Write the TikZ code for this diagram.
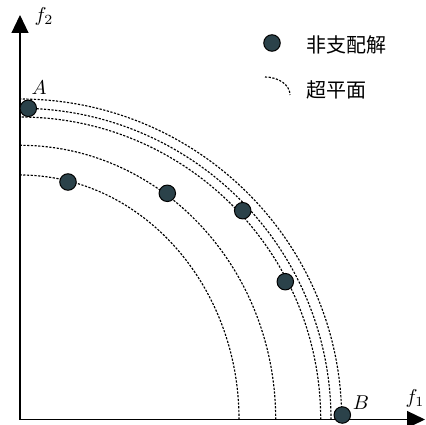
\documentclass[tikz,border=0pt]{standalone}
\usepackage{fontspec}
\newfontfamily\cjk{Noto Sans CJK SC}
\usetikzlibrary{arrows.meta}
\definecolor{dotfill}{RGB}{43,66,74}
\tikzset{
  axis/.style={line width=1.2pt,-{Triangle[length=18pt,width=17pt]}},
  hyper/.style={line width=1.15pt,dash pattern=on 2.2pt off 1.5pt},
  sol/.style={circle,draw=black,line width=1pt,fill=dotfill,minimum size=16.5pt,inner sep=0pt},
  lbl/.style={scale=2,font=\fontsize{10}{12}\selectfont},
  cjklbl/.style={anchor=west,inner sep=0pt,font=\fontsize{20}{24}\selectfont\cjk}
}
\begin{document}
\begin{tikzpicture}[x=1pt,y=1pt]
\useasboundingbox (0,0) rectangle (426,424);
\coordinate (O) at (20,4.5);
\coordinate (Ytip) at (20,409);
\coordinate (Xtip) at (425,4.5);
% hyperplanes
\draw[hyper] (O) ++(321.7,0) arc[start angle=0,end angle=90,x radius=321.7,y radius=320.5];
\draw[hyper] (O) ++(311,0) arc[start angle=0,end angle=90,x radius=311,y radius=311.2];
\draw[hyper] (O) ++(300.7,0) arc[start angle=0,end angle=90,x radius=300.7,y radius=302.5];
\draw[hyper] (O) ++(255.7,0) arc[start angle=0,end angle=90,x radius=255.7,y radius=274.2];
\draw[hyper] (O) ++(219,0) arc[start angle=0,end angle=90,x radius=219,y radius=244.5];
% axes
\draw[axis] (O) -- (Ytip);
\draw[axis] (O) -- (Xtip);
\node[lbl] (f2) at (44,407) {$f_2$};
\node[lbl] (f1) at (415,26) {$f_1$};
% solutions
\node[sol] (A) at (28.3,315.7) {};
\node[sol] (d1) at (68,242) {};
\node[sol] (d2) at (167.3,230.7) {};
\node[sol] (d3) at (242.7,213.3) {};
\node[sol] (d4) at (285.3,142.3) {};
\node[sol] (B) at (342.3,9) {};
\node[lbl] (Alab) at (39,336) {$A$};
\node[lbl] (Blab) at (361,21) {$B$};
% legend
\node[sol] (legdot) at (272,381) {};
\node[cjklbl] (legt1) at (306,379) {非支配解};
\coordinate (legs) at (265,347);
\draw[hyper] (legs) arc[start angle=90,end angle=0,x radius=25,y radius=18];
\node[cjklbl] (legt2) at (306,334) {超平面};
\end{tikzpicture}
\end{document}
